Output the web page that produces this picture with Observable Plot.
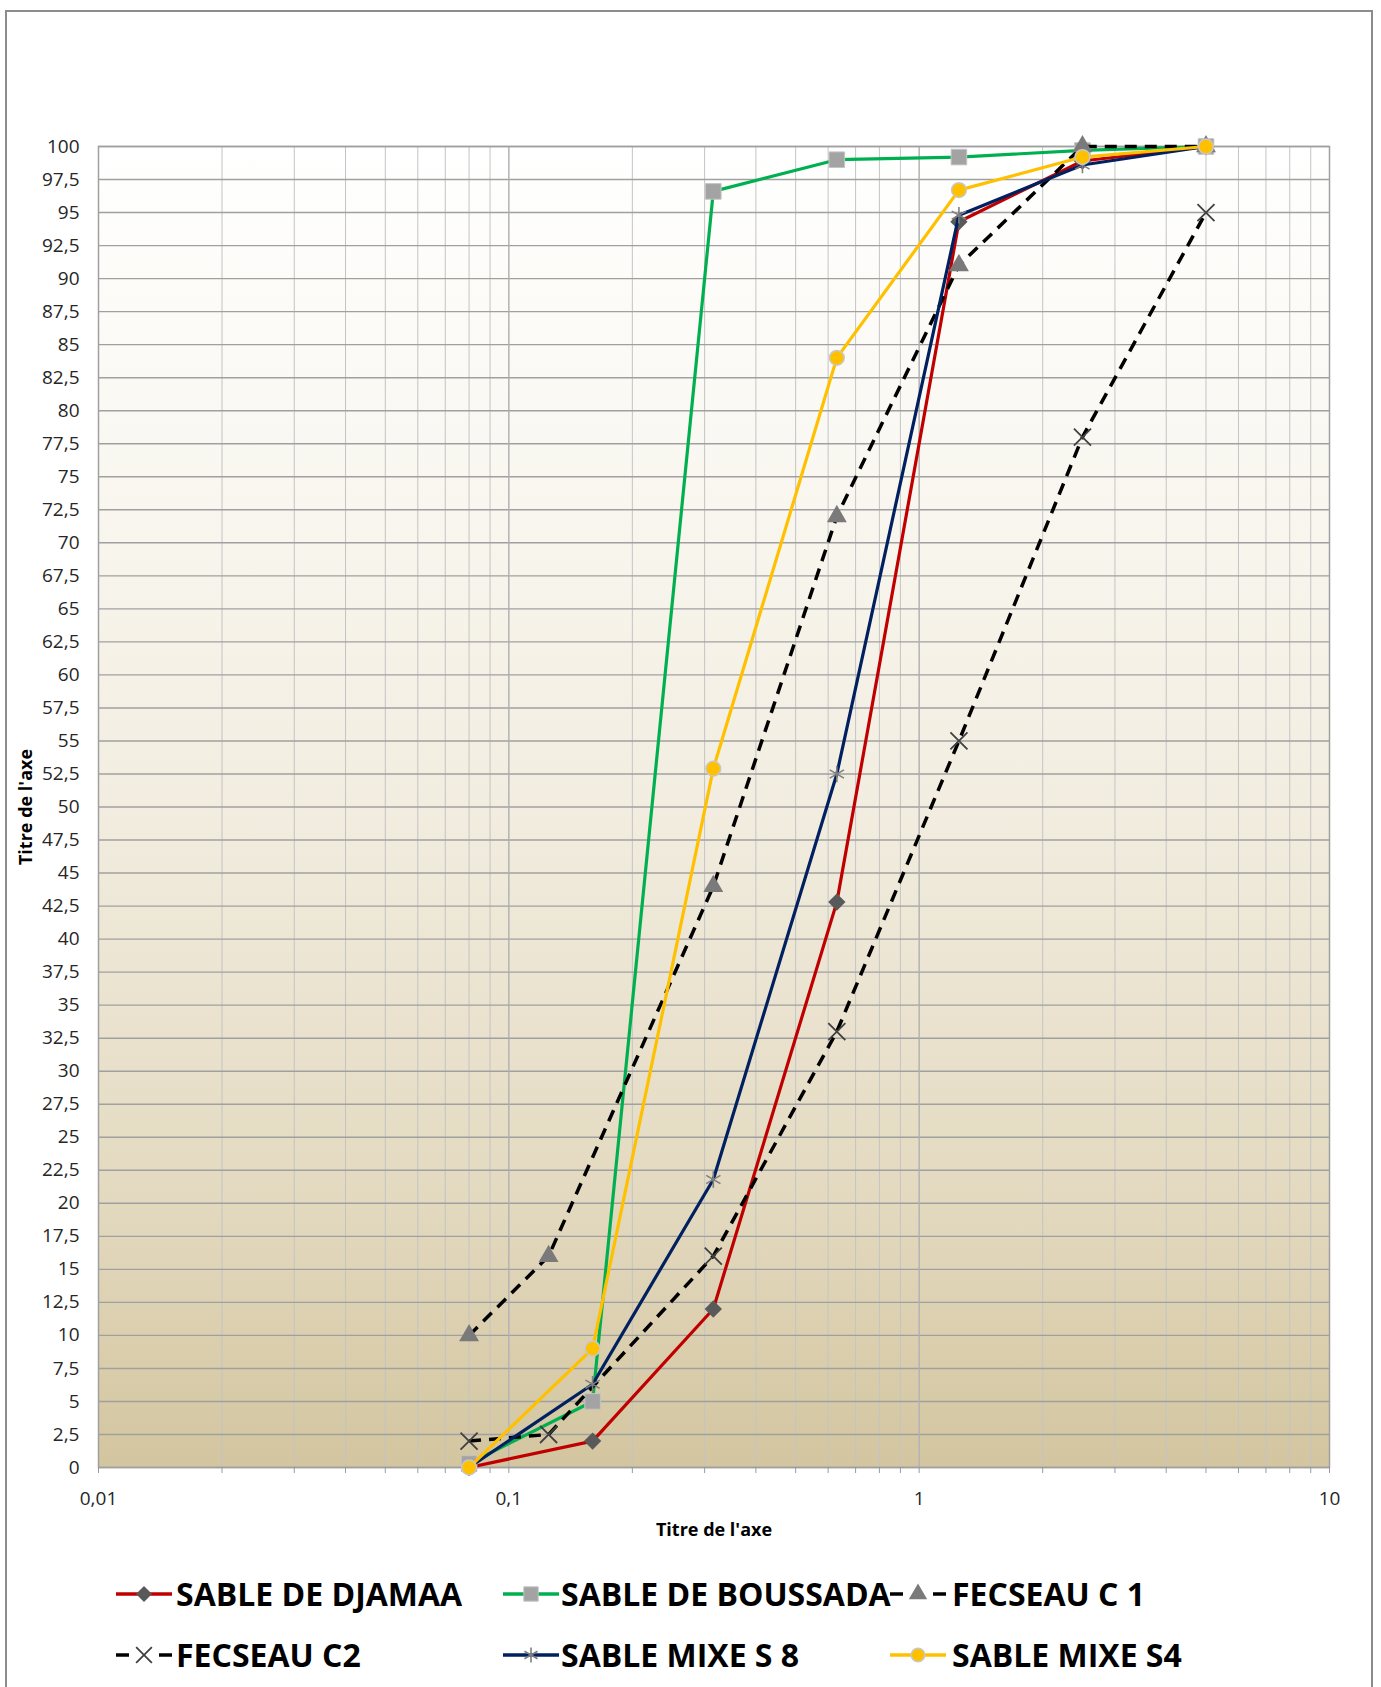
<!DOCTYPE html>
<html>
<head>
<meta charset="utf-8">
<script src="https://cdn.jsdelivr.net/npm/d3@7"></script>
<script src="https://cdn.jsdelivr.net/npm/@observablehq/plot@0.6"></script>
<style>
  body { margin: 0; background: #fff; }
  #wrap { position: relative; width: 1381px; height: 1687px; overflow: hidden; background: #fff; }
  #chart { position: absolute; left: 0; top: 0; }
  #legend { position: absolute; left: 0; top: 1560px; }
  #border { position: absolute; left: 5px; top: 10px; width: 1368px; height: 1700px;
            border: 2px solid #8c8c8c; box-sizing: border-box; pointer-events: none; }
</style>
</head>
<body>
<div id="wrap">
  <div id="chart"></div>
  <div id="legend"></div>
  <div id="border"></div>
</div>
<script>
// ---------- data ----------
const sieves    = [0.08, 0.16, 0.315, 0.63, 1.25, 2.5, 5];
const sievesFec = [0.08, 0.125, 0.315, 0.63, 1.25, 2.5, 5];

const names = ["SABLE DE DJAMAA", "SABLE DE BOUSSADA", "FECSEAU C 1",
               "FECSEAU C2", "SABLE MIXE S 8", "SABLE MIXE S4"];

const djamaa    = [0, 2, 12, 42.8, 94.3, 98.9, 100];
const boussada  = [0.3, 5, 96.6, 99.0, 99.2, 99.7, 100];
const fecseauC1 = [10, 16, 44, 72, 91, 100, 100];
const fecseauC2 = [2, 2.5, 16, 33, 55, 78, 95];
const mixeS8    = [0, 6.3, 21.8, 52.5, 94.8, 98.6, 100];
const mixeS4    = [0, 9, 52.9, 84, 96.7, 99.2, 100];

const yTicks = d3.range(0, 100.001, 2.5);
const xMajor = [0.01, 0.1, 1, 10];
const xMinor = [];
for (let e = -2; e < 1; e++) for (let k = 1; k <= 9; k++) xMinor.push(+(k * Math.pow(10, e)).toPrecision(3));
xMinor.push(10);

// ---------- styles ----------
const series = [
  {name: names[0], xs: sieves,    ys: djamaa,    stroke: "#c00000", dash: null, symbol: "diamond2", fill: "#595959", mstroke: "none", sw: 0, r: 7.8},
  {name: names[1], xs: sieves,    ys: boussada,  stroke: "#00b050", dash: null, symbol: "square",   fill: "#a3a3a3", mstroke: "#c4c4c4", sw: 1, r: 8.8},
  {name: names[2], xs: sievesFec, ys: fecseauC1, stroke: "#000000", dash: "12,8", symbol: "triangle", fill: "#7a7a7a", mstroke: "none", sw: 0, r: 7.4},
  {name: names[3], xs: sievesFec, ys: fecseauC2, stroke: "#000000", dash: "12,8", symbol: "times",    fill: "none", mstroke: "#404040", sw: 1.8, r: 7.8},
  {name: names[4], xs: sieves,    ys: mixeS8,    stroke: "#002060", dash: null, symbol: "asterisk", fill: "none", mstroke: "#7f7f7f", sw: 1.6, r: 7.8},
  {name: names[5], xs: sieves,    ys: mixeS4,    stroke: "#ffc000", dash: null, symbol: "circle",   fill: "#ffc000", mstroke: "#c8c8c8", sw: 1.5, r: 7.4}
];
series.forEach(s => { s.data = s.xs.map((x, i) => ({x, y: s.ys[i], name: s.name})); });

const fmt = d => String(d).replace(".", ",");
const W = 1381, H = 1560;
const FONT = "'Open Sans', sans-serif";

const seriesMarks = [];
for (const s of series) {
  seriesMarks.push(Plot.line(s.data, {x: "x", y: "y", stroke: s.stroke, strokeWidth: s.dash ? 3.5 : 3.2,
    strokeDasharray: s.dash || undefined, strokeLinejoin: "round", strokeLinecap: "butt"}));
  seriesMarks.push(Plot.dot(s.data, {x: "x", y: "y", symbol: () => s.symbol, r: s.r,
    fill: s.fill, stroke: s.mstroke, strokeWidth: s.sw}));
}

const plot = Plot.plot({
  width: W, height: H,
  marginLeft: 98, marginRight: 52, marginTop: 146, marginBottom: H - 1467,
  x: {type: "log", domain: [0.01, 10], label: null},
  y: {domain: [0, 100], label: null},
  symbol: {type: "identity"},
  style: {fontFamily: FONT, background: "none", color: "#262626"},
  marks: [
    Plot.frame({fill: "url(#bgGrad)", stroke: "none"}),
    Plot.ruleX(xMinor, {stroke: "#c4c4c4", strokeWidth: 1}),
    Plot.ruleY(yTicks, {stroke: "#a0a0a0", strokeWidth: 1.4}),
    Plot.ruleX([0.1, 1], {stroke: "#b0b0b0", strokeWidth: 1.2}),
    Plot.frame({stroke: "#a0a0a0", strokeWidth: 1.5}),
    Plot.axisX({ticks: xMinor, tickSize: 6, tickFormat: () => "", label: null, stroke: "#9a9a9a"}),
    Plot.axisX({ticks: xMajor, tickSize: 0, tickPadding: 24, tickFormat: fmt, label: null, fontSize: 19, fill: "#262626"}),
    Plot.axisY({ticks: yTicks, tickSize: 0, tickPadding: 19, tickFormat: fmt, label: null, fontSize: 19, fill: "#262626"}),
    Plot.text(["Titre de l'axe"], {frameAnchor: "left", dx: -72, rotate: -90, textAnchor: "middle",
      lineAnchor: "middle", fontSize: 18, fontWeight: "bold", fill: "#000"}),
    Plot.text(["Titre de l'axe"], {frameAnchor: "bottom", dy: 63, textAnchor: "middle",
      lineAnchor: "middle", fontSize: 18, fontWeight: "bold", fill: "#000"}),
    ...seriesMarks
  ]
});

// gradient background of the plotting area
const defs = d3.select(plot).insert("defs", ":first-child");
const grad = defs.append("linearGradient").attr("id", "bgGrad")
  .attr("x1", 0).attr("y1", 0).attr("x2", 0).attr("y2", 1);
[[0, "#ffffff"], [0.25, "#f9f7f0"], [0.5, "#f2ede0"], [0.8, "#e3d9bf"], [1, "#d3c59f"]]
  .forEach(([o, c]) => grad.append("stop").attr("offset", o).attr("stop-color", c));

document.getElementById("chart").appendChild(plot);

// ---------- legend ----------
const legendPos = [
  {x0: 116, tx: 176, cy: 34}, {x0: 503, tx: 561, cy: 34}, {x0: 890, tx: 952, cy: 34},
  {x0: 116, tx: 176, cy: 95}, {x0: 503, tx: 561, cy: 95}, {x0: 890, tx: 952, cy: 95}
];
const symMap = {diamond2: d3.symbolDiamond2, square: d3.symbolSquare, triangle: d3.symbolTriangle,
                times: d3.symbolTimes, asterisk: d3.symbolAsterisk, circle: d3.symbolCircle};
const lg = d3.select("#legend").append("svg").attr("width", W).attr("height", 127);
series.forEach((s, i) => {
  const p = legendPos[i];
  const g = lg.append("g");
  g.append("line").attr("x1", p.x0).attr("x2", p.x0 + 56).attr("y1", p.cy).attr("y2", p.cy)
    .attr("stroke", s.stroke).attr("stroke-width", 3.5)
    .attr("stroke-dasharray", s.dash ? "13,30" : null);
  g.append("path").attr("d", d3.symbol(symMap[s.symbol], Math.PI * s.r * s.r * 0.85)())
    .attr("transform", `translate(${p.x0 + 28},${p.cy})`)
    .attr("fill", s.fill).attr("stroke", s.mstroke).attr("stroke-width", s.sw);
  g.append("text").attr("x", p.tx).attr("y", p.cy + 11.5).text(s.name)
    .attr("font-family", FONT).attr("font-weight", "bold").attr("font-size", 32).attr("fill", "#000");
});
</script>
</body>
</html>
